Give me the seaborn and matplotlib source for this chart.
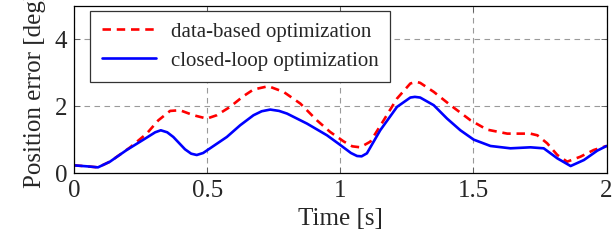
import matplotlib
matplotlib.use("Agg")
import matplotlib.pyplot as plt
import numpy as np
import pandas as pd
import seaborn as sns

sns.set_style("ticks")
plt.rcParams['font.family'] = ['Liberation Serif', 'DejaVu Serif']

# values
t_data = [0.0, 0.05, 0.09, 0.135, 0.211, 0.273, 0.317, 0.361, 0.398, 0.449, 0.499,
          0.536, 0.586, 0.636, 0.674, 0.73, 0.787, 0.85, 0.912, 0.962, 1.012, 1.045,
          1.075, 1.113, 1.163, 1.213, 1.263, 1.285, 1.30, 1.351, 1.414, 1.489, 1.551,
          1.627, 1.714, 1.74, 1.777, 1.815, 1.852, 1.902, 1.952, 2.0]
err_data = [0.23, 0.2, 0.17, 0.34, 0.77, 1.18, 1.58, 1.86, 1.88, 1.73, 1.63,
            1.73, 1.98, 2.30, 2.50, 2.60, 2.43, 2.08, 1.58, 1.23, 0.95, 0.8,
            0.77, 0.94, 1.58, 2.23, 2.68, 2.73, 2.70, 2.43, 2.03, 1.58, 1.30,
            1.18, 1.18, 1.13, 0.89, 0.54, 0.34, 0.49, 0.69, 0.81]

t_loop = [0.0, 0.05, 0.09, 0.135, 0.198, 0.273, 0.305, 0.326, 0.35, 0.373, 0.417,
          0.44, 0.461, 0.485, 0.511, 0.574, 0.624, 0.674, 0.705, 0.737, 0.77, 0.8,
          0.875, 0.95, 1.0, 1.04, 1.063, 1.08, 1.10, 1.15, 1.213, 1.263, 1.28, 1.30,
          1.351, 1.401, 1.451, 1.501, 1.564, 1.639, 1.714, 1.764, 1.815, 1.865,
          1.915, 1.965, 2.0]
err_loop = [0.23, 0.2, 0.17, 0.34, 0.69, 1.06, 1.22, 1.28, 1.22, 1.08, 0.71,
            0.58, 0.54, 0.6, 0.74, 1.08, 1.43, 1.73, 1.85, 1.90, 1.86, 1.78,
            1.48, 1.13, 0.84, 0.6, 0.51, 0.5, 0.59, 1.28, 1.98, 2.26, 2.28, 2.26,
            2.03, 1.63, 1.28, 1.0, 0.81, 0.74, 0.77, 0.74, 0.44, 0.21,
            0.39, 0.67, 0.81]

x_ticks = [0, 0.5, 1, 1.5, 2]
x_labels = ["0", "0.5", "1", "1.5", "2"]
y_ticks = [0, 2, 4]
y_labels = ["0", "2", "4"]

df_data = pd.DataFrame({"t": t_data, "e": err_data})
df_loop = pd.DataFrame({"t": t_loop, "e": err_loop})

fig = plt.figure(figsize=(6.15, 2.41), dpi=100)
ax = fig.add_axes([0.1203, 0.282, 0.866, 0.693])

sns.lineplot(data=df_data, x="t", y="e", ax=ax, color="red", linewidth=1.9,
             linestyle=(0, (3.2, 2.2)), label="data-based optimization")
sns.lineplot(data=df_loop, x="t", y="e", ax=ax, color="#0000ff", linewidth=1.9,
             label="closed-loop optimization")

ax.set_xlim(0, 2)
ax.set_ylim(0, 5)
ax.set_xticks(x_ticks)
ax.set_xticklabels(x_labels)
ax.set_yticks(y_ticks)
ax.set_yticklabels(y_labels)
ax.grid(True, color="#9a9a9a", linestyle=(0, (5, 4)), linewidth=0.8)
ax.set_axisbelow(True)
ax.tick_params(direction="in", length=4, width=0.6, top=True, right=True,
               labelsize=18, pad=5, color="#555555")
for s in ax.spines.values():
    s.set_linewidth(0.9)
    s.set_color("black")

ax.set_xlabel("Time [s]", fontsize=18, labelpad=4)
ax.set_ylabel("Position error [deg]", fontsize=18, labelpad=6)

leg = ax.legend(loc="upper left", bbox_to_anchor=(0.031, 0.972), borderaxespad=0,
                fontsize=15, frameon=True, fancybox=False,
                handlelength=2.6, borderpad=0.55, labelspacing=0.45, handletextpad=0.7)
leg.get_frame().set_edgecolor("#333333")
leg.get_frame().set_linewidth(0.9)
leg.get_frame().set_alpha(1)

fig.savefig("out.png", dpi=100)
